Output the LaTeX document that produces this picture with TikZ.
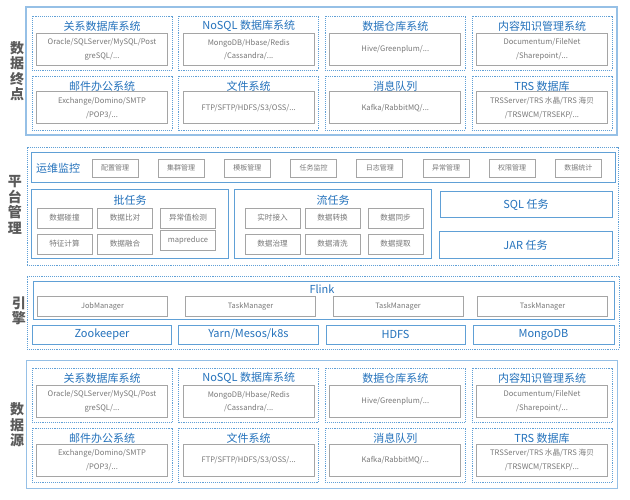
\documentclass[tikz,border=0pt]{standalone}
\usepackage{fontspec}
\setmainfont{Noto Sans CJK SC}
\usetikzlibrary{positioning}
\definecolor{headblue}{RGB}{36,114,188}
\definecolor{lineblue}{RGB}{96,160,214}
\definecolor{paleblue}{RGB}{150,192,230}
\definecolor{itemgray}{RGB}{165,165,165}
\definecolor{textgray}{RGB}{120,120,120}
\definecolor{sidegray}{RGB}{90,90,90}

\begin{document}
\begin{tikzpicture}[
    x=1pt, y=-1pt,
    node distance=19.3pt,
    every node/.style={inner sep=0pt, align=center},
    zone/.style={draw=paleblue, line width=1.2pt, minimum width=591pt, minimum height=128pt},
    dotzone/.style={draw=lineblue, densely dotted, line width=0.9pt},
    group/.style={draw=lineblue, densely dotted, line width=0.9pt, minimum width=140pt, minimum height=54pt},
    panel/.style={draw=lineblue, line width=1pt},
    item/.style={draw=itemgray, line width=1pt, text=textgray, minimum width=131pt, minimum height=32pt, font=\fontsize{7.6}{13.5}\selectfont},
    tag/.style={draw=itemgray, line width=0.9pt, text=textgray, minimum width=46pt, minimum height=18pt, font=\fontsize{7}{8}\selectfont},
    job/.style={draw=itemgray, line width=0.9pt, text=textgray, minimum width=55pt, minimum height=20pt, font=\fontsize{7.6}{9}\selectfont},
    manager/.style={draw=itemgray, line width=0.9pt, text=textgray, minimum width=130pt, minimum height=20pt, font=\fontsize{7.4}{9}\selectfont},
    head/.style={text=headblue, font=\fontsize{11}{13}\selectfont},
    side/.style={text=sidegray, font=\fontsize{14}{15.5}\selectfont\bfseries}
]
\useasboundingbox[fill=white] (0,0) rectangle (630,500);

\node[side] (endlabel) at (17,71) {数\\据\\终\\点};
\node[zone] (endzone) at (321.5,71) {};
\node[group] (rdbEbox) at (102,43) {};
\node[head] (rdbEhead) at (102,26) {关系数据库系统};
\node[item] (rdbE) at (102,49.5) {Oracle/SQLServer/MySQL/Post\\greSQL/...};
\node[group] (nosqlEbox) at (248.7,43) {};
\node[head] (nosqlEhead) at (248.7,26) {NoSQL 数据库系统};
\node[item] (nosqlE) at (248.7,49.5) {MongoDB/Hbase/Redis\\/Cassandra/...};
\node[group] (dwEbox) at (395.3,43) {};
\node[head] (dwEhead) at (395.3,26) {数据仓库系统};
\node[item] (dwE) at (395.3,49.5) {Hive/Greenplum/...};
\node[group] (ecmEbox) at (542,43) {};
\node[head] (ecmEhead) at (542,26) {内容知识管理系统};
\node[item] (ecmE) at (542,49.5) {Documentum/FileNet\\/Sharepoint/...};
\node[group] (mailEbox) at (102,103) {};
\node[head] (mailEhead) at (102,86) {邮件办公系统};
\node[item] (mailE) at (102,108) {Exchange/Domino/SMTP\\/POP3/...};
\node[group] (fileEbox) at (248.7,103) {};
\node[head] (fileEhead) at (248.7,86) {文件系统};
\node[item] (fileE) at (248.7,108) {FTP/SFTP/HDFS/S3/OSS/...};
\node[group] (mqEbox) at (395.3,103) {};
\node[head] (mqEhead) at (395.3,86) {消息队列};
\node[item] (mqE) at (395.3,108) {Kafka/RabbitMQ/...};
\node[group] (trsEbox) at (542,103) {};
\node[head] (trsEhead) at (542,86) {TRS 数据库};
\node[item] (trsE) at (542,108) {TRSServer/TRS 水晶/TRS 海贝\\/TRSWCM/TRSEKP/...};

\node[side] (mgrlabel) at (15,205) {平\\台\\管\\理};
\node[dotzone, minimum width=591pt, minimum height=118pt] (platform) at (322.5,206) {};
\node[panel, minimum width=584pt, minimum height=30pt] (ops) at (323,168) {};
\node[head, anchor=west] (opshead) at (36,168.5) {运维监控};
\node[tag] (config) at (115,168) {配置管理};
\node[tag, right=of config] (cluster) {集群管理};
\node[tag, right=of cluster] (template) {模板管理};
\node[tag, right=of template] (taskmon) {任务监控};
\node[tag, right=of taskmon] (logs) {日志管理};
\node[tag, right=of logs] (alerts) {异常管理};
\node[tag, right=of alerts] (rights) {权限管理};
\node[tag, right=of rights] (stats) {数据统计};
\node[panel, minimum width=197pt, minimum height=69pt] (batch) at (129.5,224.5) {};
\node[head] (batchhead) at (130,200) {批任务};
\node[job] (collide) at (64.5,218) {数据碰撞};
\node[job] (compare) at (125,218) {数据比对};
\node[job] (outlier) at (188,218) {异常值检测};
\node[job] (feature) at (64.5,244) {特征计算};
\node[job] (fusion) at (125,244) {数据融合};
\node[job] (mapred) at (188,240) {mapreduce};
\node[panel, minimum width=197pt, minimum height=69pt] (stream) at (332.5,224.5) {};
\node[head] (streamhead) at (333,200) {流任务};
\node[job] (ingest) at (272.5,218) {实时接入};
\node[job] (convert) at (332.5,218) {数据转换};
\node[job] (sync) at (395.5,218) {数据同步};
\node[job] (govern) at (272.5,244) {数据治理};
\node[job] (clean) at (332.5,244) {数据清洗};
\node[job] (extract) at (395.5,244) {数据提取};
\node[panel, head, minimum width=172pt, minimum height=26pt] (sql) at (526,205) {SQL 任务};
\node[panel, head, minimum width=173pt, minimum height=27pt] (jar) at (525.5,245.5) {JAR 任务};

\node[side] (englabel) at (19,311) {引\\擎};
\node[dotzone, minimum width=592pt, minimum height=73pt] (engine) at (323,312.5) {};
\node[panel, minimum width=581pt, minimum height=37pt] (flink) at (323.5,300.5) {};
\node[head] (flinkhead) at (322,289) {Flink};
\node[manager] (jobmgr) at (102.5,306) {JobManager};
\node[manager] (taskmgrA) at (250.5,306) {TaskManager};
\node[manager] (taskmgrB) at (398,306) {TaskManager};
\node[manager] (taskmgrC) at (542.5,306) {TaskManager};
\node[panel, head, minimum width=139pt, minimum height=19pt] (zk) at (102,334.5) {Zookeeper};
\node[panel, head, minimum width=140pt, minimum height=19pt] (yarn) at (248.5,334.5) {Yarn/Mesos/k8s};
\node[panel, head, minimum width=139pt, minimum height=19pt] (hdfs) at (395.5,334.5) {HDFS};
\node[panel, head, minimum width=141pt, minimum height=19pt] (mongo) at (543.5,334.5) {MongoDB};

\node[side] (srclabel) at (17,425) {数\\据\\源};
\node[zone] (srczone) at (322,424.5) {};
\node[group] (rdbSbox) at (102,395) {};
\node[head] (rdbShead) at (102,378) {关系数据库系统};
\node[item] (rdbS) at (102,401.5) {Oracle/SQLServer/MySQL/Post\\greSQL/...};
\node[group] (nosqlSbox) at (248.7,395) {};
\node[head] (nosqlShead) at (248.7,378) {NoSQL 数据库系统};
\node[item] (nosqlS) at (248.7,401.5) {MongoDB/Hbase/Redis\\/Cassandra/...};
\node[group] (dwSbox) at (395.3,395) {};
\node[head] (dwShead) at (395.3,378) {数据仓库系统};
\node[item] (dwS) at (395.3,401.5) {Hive/Greenplum/...};
\node[group] (ecmSbox) at (542,395) {};
\node[head] (ecmShead) at (542,378) {内容知识管理系统};
\node[item] (ecmS) at (542,401.5) {Documentum/FileNet\\/Sharepoint/...};
\node[group] (mailSbox) at (102,455) {};
\node[head] (mailShead) at (102,438) {邮件办公系统};
\node[item] (mailS) at (102,460) {Exchange/Domino/SMTP\\/POP3/...};
\node[group] (fileSbox) at (248.7,455) {};
\node[head] (fileShead) at (248.7,438) {文件系统};
\node[item] (fileS) at (248.7,460) {FTP/SFTP/HDFS/S3/OSS/...};
\node[group] (mqSbox) at (395.3,455) {};
\node[head] (mqShead) at (395.3,438) {消息队列};
\node[item] (mqS) at (395.3,460) {Kafka/RabbitMQ/...};
\node[group] (trsSbox) at (542,455) {};
\node[head] (trsShead) at (542,438) {TRS 数据库};
\node[item] (trsS) at (542,460) {TRSServer/TRS 水晶/TRS 海贝\\/TRSWCM/TRSEKP/...};
\end{tikzpicture}
\end{document}
